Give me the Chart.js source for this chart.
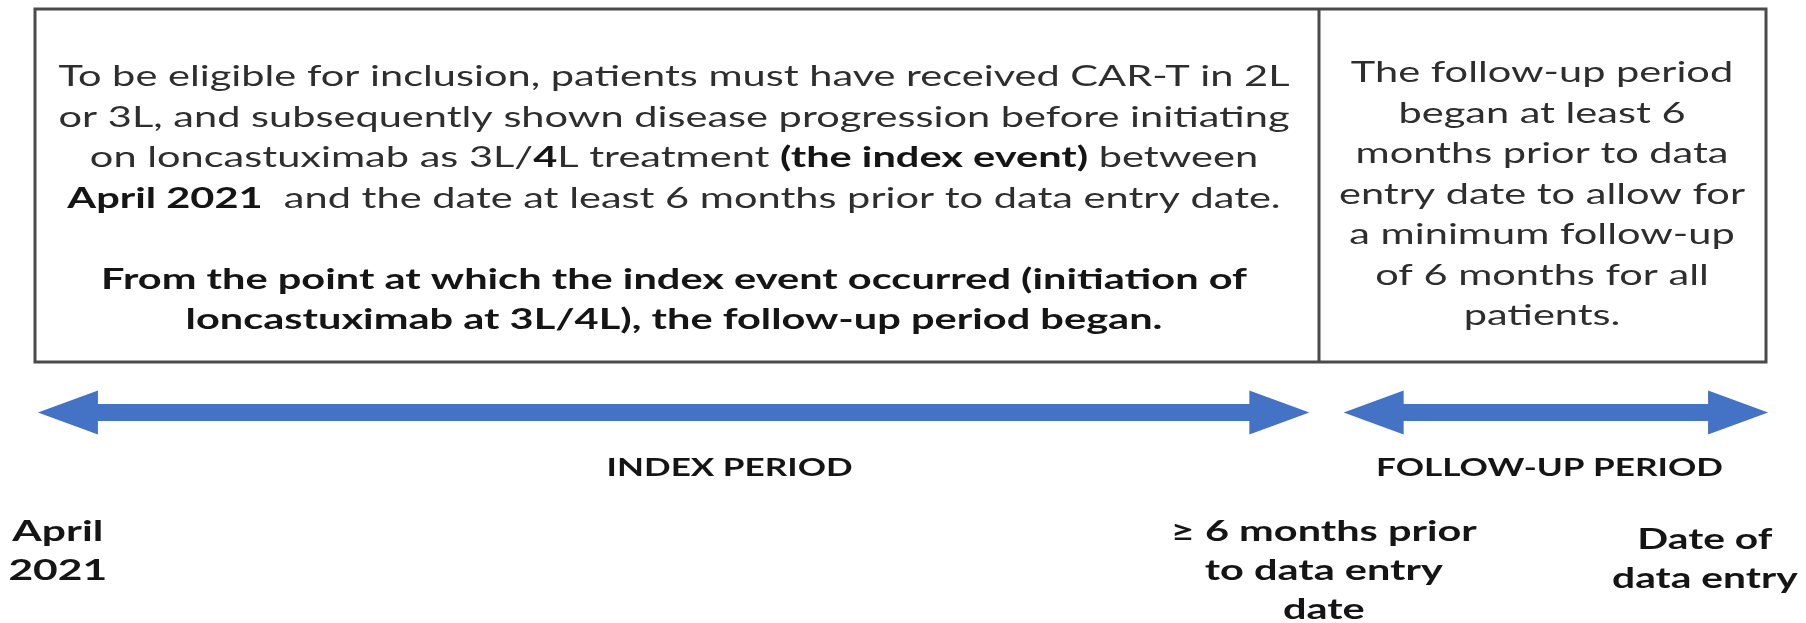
<!DOCTYPE html>
<html>
<head>
<meta charset="utf-8">
<script src="https://cdn.jsdelivr.net/npm/chart.js@4.4.1/dist/chart.umd.min.js"></script>
<style>
  html, body { margin: 0; padding: 0; background: #fff; }
  #wrap { width: 1806px; height: 623px; position: relative; }
</style>
</head>
<body>
<div id="wrap"><canvas id="timeline"></canvas></div>
<script>
// timeline positions are on a 0-100 scale across the figure
const periodLabels = ['INDEX PERIOD', 'FOLLOW-UP PERIOD']
const periodStart = [2.1, 74.4]
const periodEnd = [72.5, 97.9]
const periodLabelPos = [40.4, 85.8]

const milestoneLabels = [['April', '2021'], ['≥ 6 months prior', 'to data entry', 'date'], ['Date of', 'data entry']]
const milestonePos = [3.2, 73.3, 94.4]

// box text, each line is a list of [text, bold]
const inclusionText = [
  [['To be eligible for inclusion, patients must have received CAR-T in 2L', false]],
  [['or 3L, and subsequently shown disease progression before initiating', false]],
  [['on loncastuximab as 3L/', false], ['4', true], ['L treatment ', false], ['(the index event)', true], [' between', false]],
  [['April 2021', true], ['  and the date at least 6 months prior to data entry date.', false]],
  [],
  [['From the point at which the index event occurred (initiation of', true]],
  [['loncastuximab at 3L/4L), the follow-up period began.', true]]
]
const followUpText = [
  [['The follow-up period', false]],
  [['began at least 6', false]],
  [['months prior to data', false]],
  [['entry date to allow for', false]],
  [['a minimum follow-up', false]],
  [['of 6 months for all', false]],
  [['patients.', false]]
]

const FONT = 'Lato, "Open Sans", sans-serif'
const arrowBlue = '#4472C4'

function runsWidth(ctx, runs, size) {
  let w = 0
  runs.forEach(([t, b]) => {
    ctx.font = (b ? 'bold ' : '') + size + 'px ' + FONT
    w += ctx.measureText(t).width
  })
  return w
}

// draw centred lines, stretched sideways so line fitIdx gets width fitW
function drawBlock(ctx, lines, cx, y0, lineH, size, fitIdx, fitW) {
  const sx = fitW / runsWidth(ctx, lines[fitIdx], size)
  lines.forEach((runs, i) => {
    let x = cx - runsWidth(ctx, runs, size) * sx / 2
    const y = y0 + i * lineH
    runs.forEach(([t, b]) => {
      ctx.font = (b ? 'bold ' : '') + size + 'px ' + FONT
      ctx.fillStyle = b ? '#151515' : '#2e2e2e'
      ctx.save()
      ctx.translate(x, y)
      ctx.scale(sx, 1)
      ctx.fillText(t, 0, 0)
      ctx.restore()
      x += ctx.measureText(t).width * sx
    })
  })
}

const diagramPlugin = {
  id: 'diagram',
  afterDatasetsDraw(chart) {
    const ctx = chart.ctx
    const xs = chart.scales.x

    // double headed arrows from the period datasets
    chart.data.datasets.forEach((ds, i) => {
      const pts = chart.getDatasetMeta(i).data
      const x1 = pts[0].x, x2 = pts[1].x, y = pts[0].y
      const head = 60, hw = 22, sw = 8.5
      ctx.save()
      ctx.fillStyle = arrowBlue
      ctx.beginPath()
      ctx.moveTo(x1, y)
      ctx.lineTo(x1 + head, y - hw)
      ctx.lineTo(x1 + head, y - sw)
      ctx.lineTo(x2 - head, y - sw)
      ctx.lineTo(x2 - head, y - hw)
      ctx.lineTo(x2, y)
      ctx.lineTo(x2 - head, y + hw)
      ctx.lineTo(x2 - head, y + sw)
      ctx.lineTo(x1 + head, y + sw)
      ctx.lineTo(x1 + head, y + hw)
      ctx.closePath()
      ctx.fill()
      ctx.restore()
    })

    ctx.save()
    // the two cell box
    ctx.strokeStyle = '#4a4a4a'
    ctx.lineWidth = 3
    ctx.strokeRect(35, 9, 1731, 353)
    ctx.beginPath()
    ctx.moveTo(1319, 9)
    ctx.lineTo(1319, 362)
    ctx.stroke()

    ctx.textBaseline = 'middle'
    ctx.textAlign = 'left'
    drawBlock(ctx, inclusionText, 674, 77, 40.5, 28, 1, 1231)
    drawBlock(ctx, followUpText, 1542, 73, 40.5, 28, 3, 406)

    // period names under the arrows
    periodLabels.forEach((lab, i) => {
      drawBlock(ctx, [[[lab, true]]], xs.getPixelForValue(periodLabelPos[i]), 468, 0, 25, 0, i === 0 ? 246 : 347)
    })

    // milestone labels
    const tops = [532, 532, 540]
    const fitW = [91, 306, 135]
    milestoneLabels.forEach((lines, i) => {
      const runs = lines.map(l => [[l, true]])
      drawBlock(ctx, runs, xs.getPixelForValue(milestonePos[i]), tops[i], 39, 28, 0, fitW[i])
    })
    ctx.restore()
  }
}

function timelineChart() {
  const data = {
    datasets: periodLabels.map((lab, i) => ({
      label: lab,
      data: [{x: periodStart[i], y: 0}, {x: periodEnd[i], y: 0}],
      borderColor: arrowBlue,
      backgroundColor: arrowBlue,
      showLine: false,
      pointRadius: 0
    }))
  }

  const options = {
    responsive: true,
    maintainAspectRatio: false,
    animation: false,
    layout: { padding: { left: 0, right: 0, top: 390, bottom: 188 }, autoPadding: false },
    scales: {
      x: { type: 'linear', min: 0, max: 100, display: false },
      y: { type: 'linear', min: -1, max: 1, display: false }
    },
    plugins: {
      legend: { display: false },
      tooltip: { enabled: false }
    }
  }

  const ctx = document.getElementById('timeline').getContext('2d')
  new Chart(ctx, { type: 'line', data, options, plugins: [diagramPlugin] })
}

timelineChart()
</script>
</body>
</html>
